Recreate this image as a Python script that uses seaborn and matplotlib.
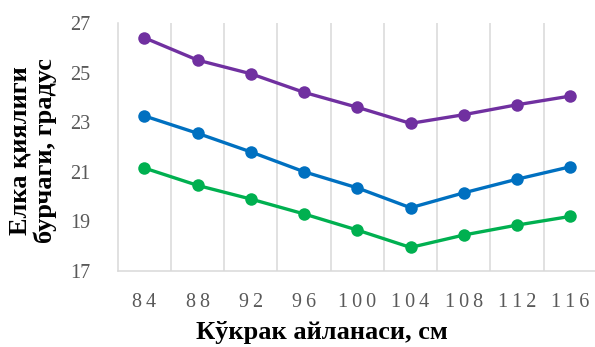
import matplotlib
matplotlib.use("Agg")
import matplotlib.pyplot as plt
import seaborn as sns
import pandas as pd

# Chest girth, cm
chest_girth = [84, 88, 92, 96, 100, 104, 108, 112, 116]
# Shoulder slope angle, degrees, for three series
series_top = [26.4, 25.5, 24.95, 24.2, 23.6, 22.95, 23.3, 23.7, 24.05]
series_mid = [23.25, 22.55, 21.8, 21.0, 20.35, 19.55, 20.15, 20.7, 21.2]
series_low = [21.15, 20.45, 19.9, 19.3, 18.65, 17.95, 18.45, 18.85, 19.2]
y_ticks = [17, 19, 21, 23, 25, 27]

series_names = ["top", "mid", "low"]
palette = {"top": "#7030A0", "mid": "#0070C0", "low": "#00B050"}

rows = []
for name, vals in zip(series_names, [series_top, series_mid, series_low]):
    for i, (g, v) in enumerate(zip(chest_girth, vals)):
        rows.append({"pos": i, "girth": g, "angle": v, "series": name})
df = pd.DataFrame(rows)

sns.set_theme(style="white")
plt.rcParams["font.family"] = ["Liberation Serif", "DejaVu Serif"]

fig = plt.figure(figsize=(5.95, 3.47), dpi=100)
ax = fig.add_axes([0.198, 0.219, 0.805, 0.715])

# vertical category separators
for b in range(len(chest_girth)):
    ax.axvline(b + 0.5, color="#D9D9D9", lw=1.1, zorder=0)

sns.lineplot(data=df, x="pos", y="angle", hue="series", palette=palette,
             marker="o", markersize=9, markeredgewidth=0, linewidth=2.4,
             legend=False, ax=ax, zorder=3)

ax.set_xlim(-0.5, len(chest_girth) - 0.5)
ax.set_ylim(17, 27)
ax.set_yticks(y_ticks)
ax.set_yticklabels([str(t) for t in y_ticks], fontsize=14.5, color="#595959")
ax.set_xticks(range(len(chest_girth)))
ax.set_xticklabels(["\u2009".join(str(g)) for g in chest_girth],
                   fontsize=14.5, color="#595959")
ax.tick_params(axis="both", length=0)
ax.tick_params(axis="y", pad=20)
ax.tick_params(axis="x", pad=16)

for side in ["top", "right"]:
    ax.spines[side].set_visible(False)
for side in ["left", "bottom"]:
    ax.spines[side].set_color("#D9D9D9")
    ax.spines[side].set_linewidth(1.1)

ax.set_xlabel("Кўкрак айланаси, см", fontsize=19, fontweight="bold", color="black")
ax.set_ylabel("Елка қиялиги\nбурчаги, градус", fontsize=19, fontweight="bold",
              color="black", linespacing=1.1)
ax.xaxis.set_label_coords(0.426, -0.2)
ax.yaxis.set_label_coords(-0.127, 0.485)

fig.savefig("out.png", dpi=100)
